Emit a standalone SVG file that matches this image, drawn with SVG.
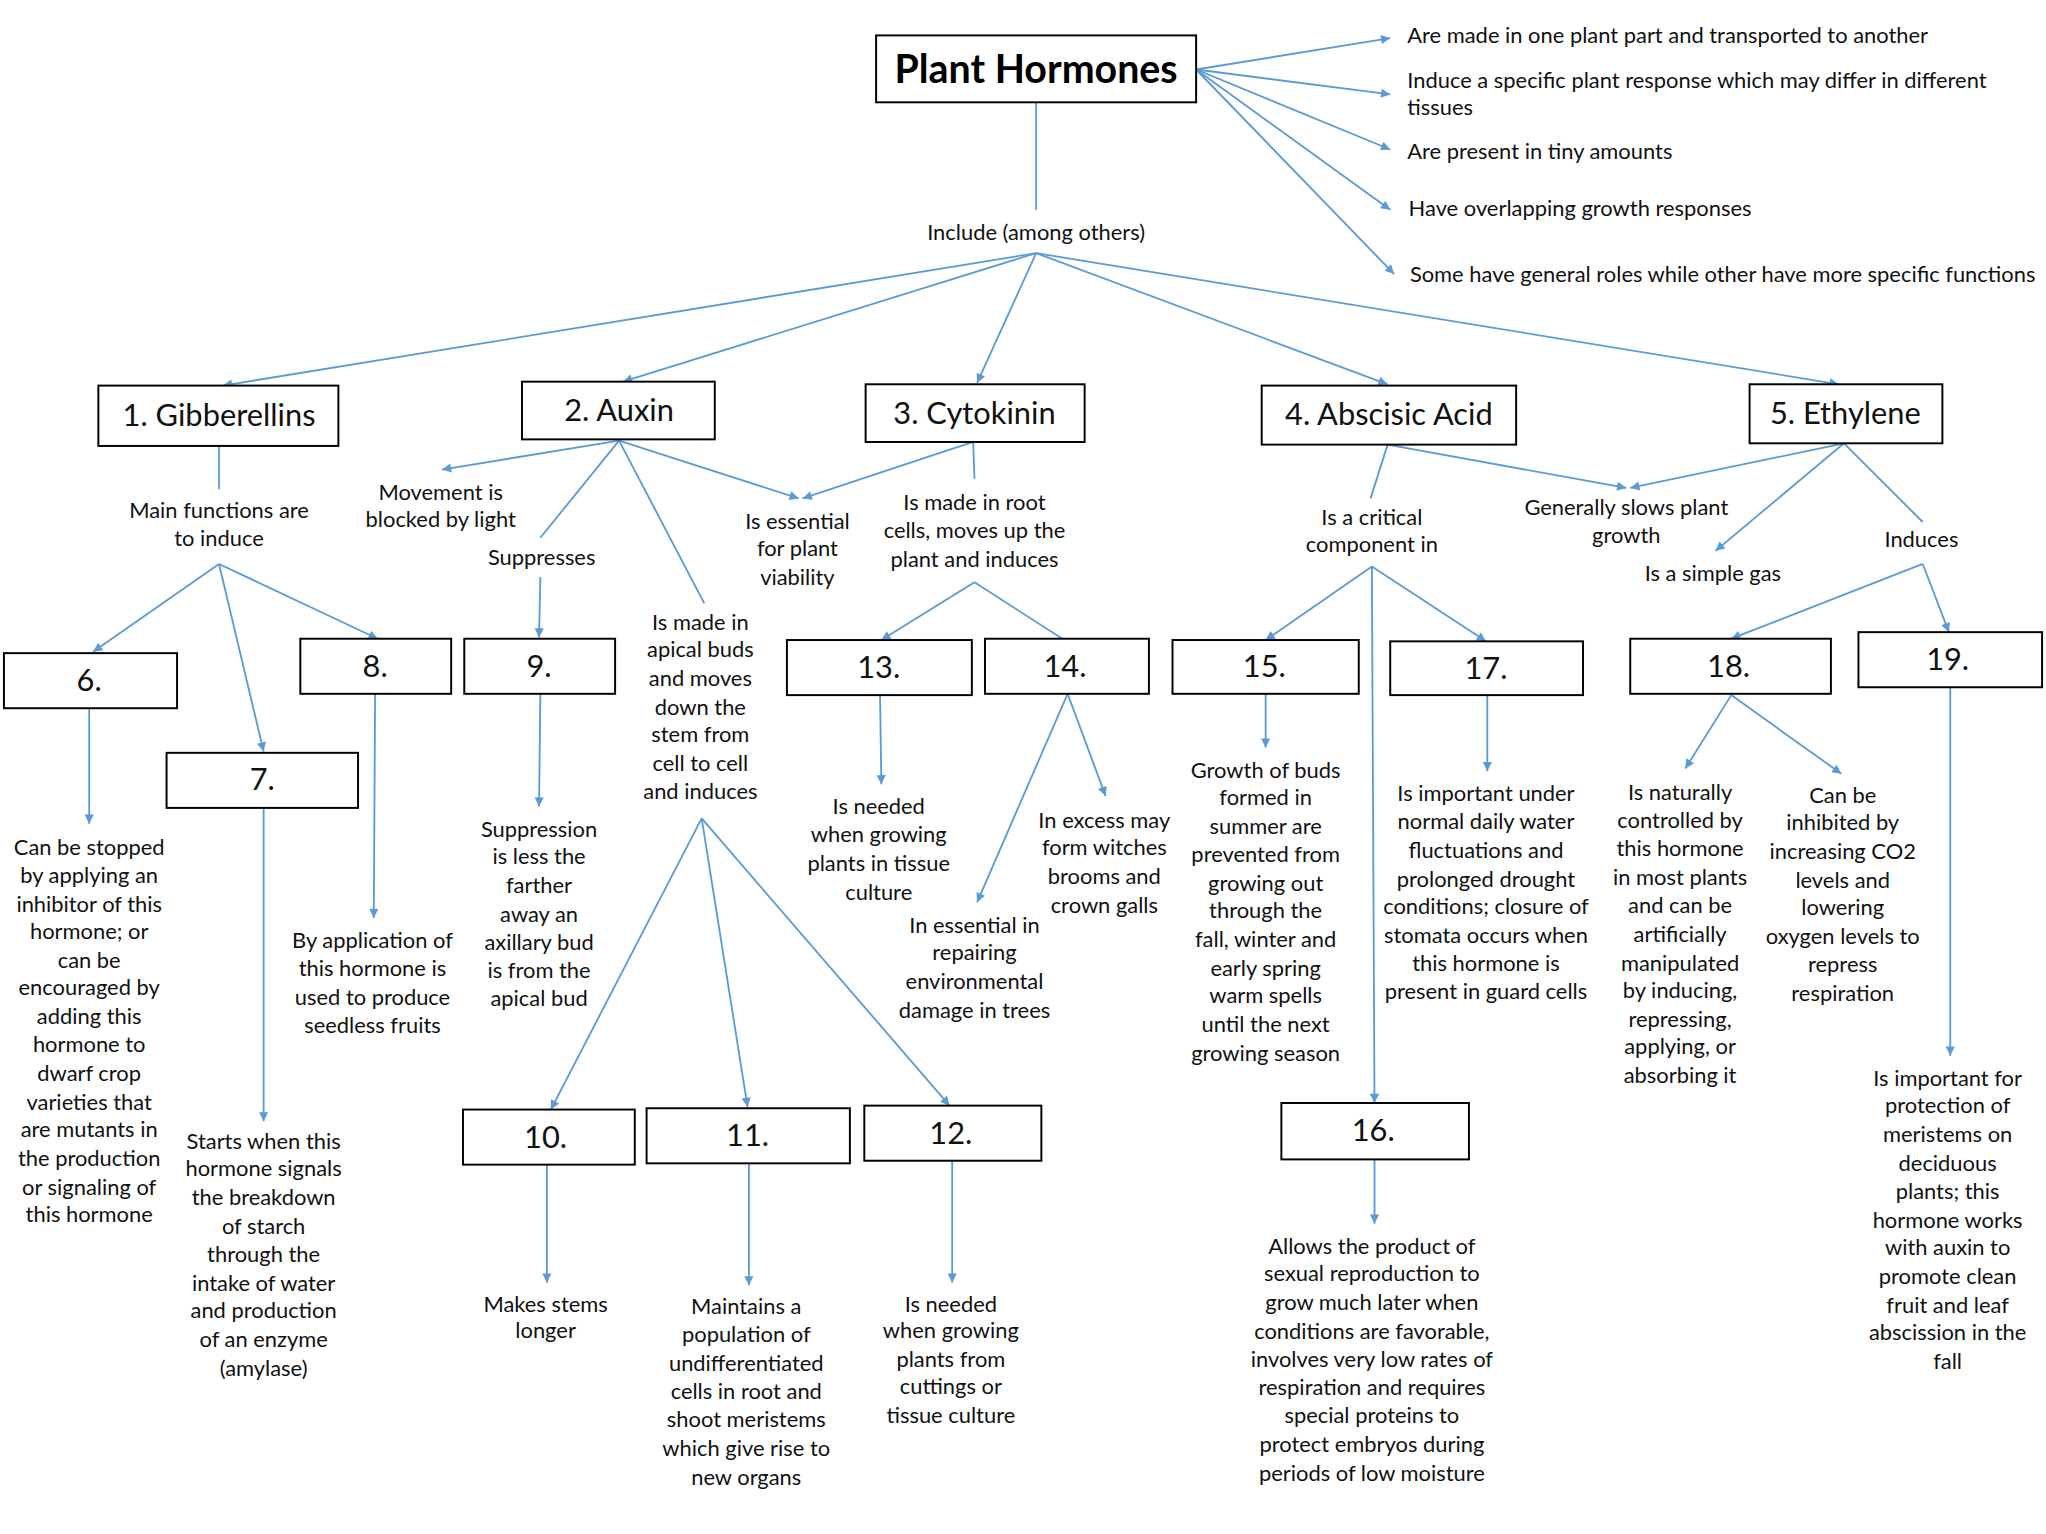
<svg xmlns="http://www.w3.org/2000/svg" width="2046" height="1534" viewBox="0 0 2046 1534">
<style>
.t{font-family:Lato,"Liberation Sans",sans-serif;font-size:16.7px;fill:#111;text-anchor:middle}
.l{font-family:Lato,"Liberation Sans",sans-serif;font-size:16.7px;fill:#111;text-anchor:start}
.bl{font-family:Lato,"Liberation Sans",sans-serif;font-size:23.5px;fill:#111;text-anchor:middle}
.ti{font-family:Lato,"Liberation Sans",sans-serif;font-size:30px;font-weight:bold;fill:#000;text-anchor:middle}
.b{fill:#fff;stroke:#000;stroke-width:1.5}
.c{stroke:#5B9BD5;stroke-width:1.4;fill:none}
.a{stroke:#5B9BD5;stroke-width:1.4;fill:none;marker-end:url(#ah)}
</style>
<defs>
<marker id="ah" viewBox="0 0 10 10" refX="10" refY="5" markerWidth="9" markerHeight="7" markerUnits="userSpaceOnUse" orient="auto"><path d="M0,0 L10,5 L0,10 z" fill="#5B9BD5"/></marker>
</defs>
<rect width="2046" height="1534" fill="#fff"/>
<g transform="scale(1.31154)">
<g id="connectors">
<line class="a" x1="912" y1="53" x2="1060" y2="29"/>
<line class="a" x1="912" y1="53" x2="1060" y2="72"/>
<line class="a" x1="912" y1="53" x2="1060" y2="114"/>
<line class="a" x1="912" y1="53" x2="1060" y2="160"/>
<line class="a" x1="912" y1="53" x2="1063" y2="209"/>
<line class="c" x1="790" y1="78" x2="790" y2="160"/>
<line class="a" x1="790" y1="193" x2="170" y2="294"/>
<line class="a" x1="790" y1="193" x2="475" y2="291"/>
<line class="a" x1="790" y1="193" x2="745" y2="292"/>
<line class="a" x1="790" y1="193" x2="1058" y2="293"/>
<line class="a" x1="790" y1="193" x2="1402" y2="293"/>
<line class="c" x1="167" y1="340" x2="167" y2="373"/>
<line class="a" x1="167" y1="430" x2="71" y2="497"/>
<line class="a" x1="167" y1="430" x2="201" y2="573"/>
<line class="a" x1="167" y1="430" x2="288" y2="487"/>
<line class="a" x1="68" y1="540" x2="68" y2="628"/>
<line class="a" x1="201" y1="616" x2="201" y2="855"/>
<line class="a" x1="286" y1="529" x2="285" y2="700"/>
<line class="a" x1="472" y1="336" x2="337" y2="358"/>
<line class="c" x1="472" y1="336" x2="412" y2="410"/>
<line class="a" x1="412" y1="440" x2="411" y2="486"/>
<line class="a" x1="472" y1="336" x2="609" y2="380"/>
<line class="a" x1="742" y1="337" x2="612" y2="380"/>
<line class="c" x1="472" y1="336" x2="537" y2="460"/>
<line class="a" x1="412" y1="529" x2="411" y2="615"/>
<line class="a" x1="535" y1="624" x2="420" y2="846"/>
<line class="a" x1="535" y1="624" x2="570" y2="844"/>
<line class="a" x1="535" y1="624" x2="724" y2="843"/>
<line class="a" x1="417" y1="888" x2="417" y2="978"/>
<line class="a" x1="571" y1="887" x2="571" y2="980"/>
<line class="a" x1="726" y1="885" x2="726" y2="978"/>
<line class="c" x1="742" y1="337" x2="743" y2="365"/>
<line class="a" x1="743" y1="444" x2="672" y2="488"/>
<line class="c" x1="743" y1="444" x2="810" y2="487"/>
<line class="a" x1="671" y1="530" x2="672" y2="598"/>
<line class="a" x1="814" y1="529" x2="745" y2="688"/>
<line class="a" x1="814" y1="529" x2="843" y2="607"/>
<line class="c" x1="1058" y1="339" x2="1045" y2="380"/>
<line class="a" x1="1058" y1="339" x2="1240" y2="372"/>
<line class="a" x1="1406" y1="338" x2="1243" y2="372"/>
<line class="a" x1="1046" y1="432" x2="965" y2="488"/>
<line class="a" x1="1046" y1="432" x2="1048" y2="841"/>
<line class="a" x1="1046" y1="432" x2="1133" y2="489"/>
<line class="a" x1="965" y1="529" x2="965" y2="570"/>
<line class="a" x1="1048" y1="884" x2="1048" y2="933"/>
<line class="a" x1="1134" y1="530" x2="1134" y2="588"/>
<line class="a" x1="1406" y1="338" x2="1308" y2="420"/>
<line class="c" x1="1406" y1="338" x2="1466" y2="398"/>
<line class="a" x1="1466" y1="430" x2="1320" y2="487"/>
<line class="a" x1="1466" y1="430" x2="1486" y2="482"/>
<line class="a" x1="1320" y1="530" x2="1285" y2="586"/>
<line class="a" x1="1320" y1="530" x2="1404" y2="590"/>
<line class="a" x1="1487" y1="524" x2="1487" y2="805"/>
</g>
<g id="plant-hormones"><rect class="b" x="668" y="27" width="244" height="51"/><text class="ti" x="790" y="63">Plant Hormones</text></g>
<g id="props">
<text class="l" x="1073" y="33">Are made in one plant part and transported to another</text>
<text class="l" x="1073" y="67">Induce a specific plant response which may differ in different<tspan x="1073" y="88">tissues</tspan></text>
<text class="l" x="1073" y="121">Are present in tiny amounts</text>
<text class="l" x="1074" y="165">Have overlapping growth responses</text>
<text class="l" x="1075" y="215">Some have general roles while other have more specific functions</text>
</g>
<g id="include"><text class="t" x="790" y="183">Include (among others)</text></g>
<g id="n1"><rect class="b" x="75" y="294" width="183" height="46"/><text class="bl" x="167" y="325">1. Gibberellins</text></g>
<g id="n2"><rect class="b" x="398" y="291" width="147" height="44"/><text class="bl" x="472" y="321">2. Auxin</text></g>
<g id="n3"><rect class="b" x="660" y="293" width="167" height="44"/><text class="bl" x="743" y="323">3. Cytokinin</text></g>
<g id="n4"><rect class="b" x="962" y="294" width="194" height="45"/><text class="bl" x="1059" y="324">4. Abscisic Acid</text></g>
<g id="n5"><rect class="b" x="1334" y="293" width="147" height="45"/><text class="bl" x="1407" y="323">5. Ethylene</text></g>
<g id="l-gib"><text class="t" x="167" y="395">Main functions are<tspan x="167" y="416">to induce</tspan></text></g>
<g id="n6"><rect class="b" x="3" y="498" width="132" height="42"/><text class="bl" x="68" y="527">6.</text></g>
<g id="n7"><rect class="b" x="127" y="574" width="146" height="42"/><text class="bl" x="200" y="602">7.</text></g>
<g id="n8"><rect class="b" x="229" y="487" width="115" height="42"/><text class="bl" x="286" y="516">8.</text></g>
<g id="t6"><text class="t" x="68" y="652">Can be stopped<tspan x="68" y="673">by applying an</tspan><tspan x="68" y="695">inhibitor of this</tspan><tspan x="68" y="716">hormone;  or</tspan><tspan x="68" y="738">can be</tspan><tspan x="68" y="759">encouraged by</tspan><tspan x="68" y="781">adding this</tspan><tspan x="68" y="802">hormone to</tspan><tspan x="68" y="824">dwarf crop</tspan><tspan x="68" y="846">varieties that</tspan><tspan x="68" y="867">are mutants in</tspan><tspan x="68" y="889">the production</tspan><tspan x="68" y="911">or signaling of</tspan><tspan x="68" y="932">this hormone</tspan></text></g>
<g id="t7"><text class="t" x="201" y="876">Starts when this<tspan x="201" y="897">hormone signals</tspan><tspan x="201" y="919">the breakdown</tspan><tspan x="201" y="941">of starch</tspan><tspan x="201" y="962">through the</tspan><tspan x="201" y="984">intake of water</tspan><tspan x="201" y="1005">and production</tspan><tspan x="201" y="1027">of an enzyme</tspan><tspan x="201" y="1049">(amylase)</tspan></text></g>
<g id="t8"><text class="t" x="284" y="723">By application of<tspan x="284" y="744">this hormone is</tspan><tspan x="284" y="766">used to produce</tspan><tspan x="284" y="788">seedless fruits</tspan></text></g>
<g id="l-mov"><text class="t" x="336" y="381">Movement is<tspan x="336" y="402">blocked by light</tspan></text></g>
<g id="l-sup"><text class="t" x="413" y="431">Suppresses</text></g>
<g id="l-ess"><text class="t" x="608" y="403">Is essential<tspan x="608" y="424">for plant</tspan><tspan x="608" y="446">viability</tspan></text></g>
<g id="l-apical"><text class="t" x="534" y="480">Is made in<tspan x="534" y="501">apical buds</tspan><tspan x="534" y="523">and moves</tspan><tspan x="534" y="545">down the</tspan><tspan x="534" y="566">stem from</tspan><tspan x="534" y="588">cell to cell</tspan><tspan x="534" y="609">and induces</tspan></text></g>
<g id="n9"><rect class="b" x="354" y="487" width="115" height="42"/><text class="bl" x="411" y="516">9.</text></g>
<g id="t9"><text class="t" x="411" y="638">Suppression<tspan x="411" y="659">is less the</tspan><tspan x="411" y="681">farther</tspan><tspan x="411" y="703">away an</tspan><tspan x="411" y="724">axillary bud</tspan><tspan x="411" y="746">is from the</tspan><tspan x="411" y="767">apical bud</tspan></text></g>
<g id="n10"><rect class="b" x="353" y="846" width="131" height="42"/><text class="bl" x="416" y="875">10.</text></g>
<g id="t10"><text class="t" x="416" y="1000">Makes stems<tspan x="416" y="1020">longer</tspan></text></g>
<g id="n11"><rect class="b" x="493" y="845" width="155" height="42"/><text class="bl" x="570" y="874">11.</text></g>
<g id="t11"><text class="t" x="569" y="1002">Maintains a<tspan x="569" y="1023">population of</tspan><tspan x="569" y="1045">undifferentiated</tspan><tspan x="569" y="1067">cells in root and</tspan><tspan x="569" y="1088">shoot meristems</tspan><tspan x="569" y="1110">which give rise to</tspan><tspan x="569" y="1132">new organs</tspan></text></g>
<g id="n12"><rect class="b" x="659" y="843" width="135" height="42"/><text class="bl" x="725" y="872">12.</text></g>
<g id="t12"><text class="t" x="725" y="1000">Is needed<tspan x="725" y="1020">when growing</tspan><tspan x="725" y="1042">plants from</tspan><tspan x="725" y="1063">cuttings or</tspan><tspan x="725" y="1085">tissue culture</tspan></text></g>
<g id="l-root"><text class="t" x="743" y="389">Is made in root<tspan x="743" y="410">cells, moves up the</tspan><tspan x="743" y="432">plant and induces</tspan></text></g>
<g id="n13"><rect class="b" x="600" y="488" width="141" height="42"/><text class="bl" x="670" y="517">13.</text></g>
<g id="t13"><text class="t" x="670" y="621">Is needed<tspan x="670" y="642">when growing</tspan><tspan x="670" y="664">plants in tissue</tspan><tspan x="670" y="686">culture</tspan></text></g>
<g id="n14"><rect class="b" x="751" y="487" width="125" height="42"/><text class="bl" x="812" y="516">14.</text></g>
<g id="t14a"><text class="t" x="743" y="711">In essential in<tspan x="743" y="732">repairing</tspan><tspan x="743" y="754">environmental</tspan><tspan x="743" y="776">damage in trees</tspan></text></g>
<g id="t14b"><text class="t" x="842" y="631">In excess may<tspan x="842" y="652">form witches</tspan><tspan x="842" y="674">brooms and</tspan><tspan x="842" y="696">crown galls</tspan></text></g>
<g id="l-crit"><text class="t" x="1046" y="400">Is  a critical<tspan x="1046" y="421">component in</tspan></text></g>
<g id="l-slow"><text class="t" x="1240" y="393">Generally slows plant<tspan x="1240" y="414">growth</tspan></text></g>
<g id="n15"><rect class="b" x="894" y="488" width="142" height="41"/><text class="bl" x="964" y="516">15.</text></g>
<g id="t15"><text class="t" x="965" y="593">Growth of buds<tspan x="965" y="614">formed in</tspan><tspan x="965" y="636">summer are</tspan><tspan x="965" y="657">prevented from</tspan><tspan x="965" y="679">growing out</tspan><tspan x="965" y="700">through the</tspan><tspan x="965" y="722">fall, winter and</tspan><tspan x="965" y="744">early spring</tspan><tspan x="965" y="765">warm spells</tspan><tspan x="965" y="787">until the next</tspan><tspan x="965" y="809">growing season</tspan></text></g>
<g id="n16"><rect class="b" x="977" y="841" width="143" height="43"/><text class="bl" x="1047" y="870">16.</text></g>
<g id="t16"><text class="t" x="1046" y="956">Allows the product of<tspan x="1046" y="977">sexual reproduction to</tspan><tspan x="1046" y="999">grow much later when</tspan><tspan x="1046" y="1021">conditions are favorable,</tspan><tspan x="1046" y="1042">involves very low rates of</tspan><tspan x="1046" y="1064">respiration and requires</tspan><tspan x="1046" y="1085">special proteins to</tspan><tspan x="1046" y="1107">protect embryos during</tspan><tspan x="1046" y="1129">periods of low moisture</tspan></text></g>
<g id="n17"><rect class="b" x="1060" y="489" width="147" height="41"/><text class="bl" x="1133" y="518">17.</text></g>
<g id="t17"><text class="t" x="1133" y="611">Is important under<tspan x="1133" y="632">normal daily water</tspan><tspan x="1133" y="654">fluctuations and</tspan><tspan x="1133" y="676">prolonged drought</tspan><tspan x="1133" y="697">conditions; closure of</tspan><tspan x="1133" y="719">stomata occurs when</tspan><tspan x="1133" y="740">this hormone is</tspan><tspan x="1133" y="762">present in guard cells</tspan></text></g>
<g id="l-gas"><text class="t" x="1306" y="443">Is a simple gas</text></g>
<g id="l-ind"><text class="t" x="1465" y="417">Induces</text></g>
<g id="n18"><rect class="b" x="1243" y="487" width="153" height="42"/><text class="bl" x="1318" y="516">18.</text></g>
<g id="t18a"><text class="t" x="1281" y="610">Is naturally<tspan x="1281" y="631">controlled by</tspan><tspan x="1281" y="653">this hormone</tspan><tspan x="1281" y="675">in most plants</tspan><tspan x="1281" y="696">and can be</tspan><tspan x="1281" y="718">artificially</tspan><tspan x="1281" y="740">manipulated</tspan><tspan x="1281" y="761">by inducing,</tspan><tspan x="1281" y="783">repressing,</tspan><tspan x="1281" y="804">applying, or</tspan><tspan x="1281" y="826">absorbing it</tspan></text></g>
<g id="t18b"><text class="t" x="1405" y="612">Can be<tspan x="1405" y="633">inhibited by</tspan><tspan x="1405" y="655">increasing CO2</tspan><tspan x="1405" y="677">levels and</tspan><tspan x="1405" y="698">lowering</tspan><tspan x="1405" y="720">oxygen levels to</tspan><tspan x="1405" y="741">repress</tspan><tspan x="1405" y="763">respiration</tspan></text></g>
<g id="n19"><rect class="b" x="1417" y="482" width="140" height="42"/><text class="bl" x="1485" y="511">19.</text></g>
<g id="t19"><text class="t" x="1485" y="828">Is important for<tspan x="1485" y="849">protection of</tspan><tspan x="1485" y="871">meristems on</tspan><tspan x="1485" y="893">deciduous</tspan><tspan x="1485" y="914">plants; this</tspan><tspan x="1485" y="936">hormone works</tspan><tspan x="1485" y="957">with auxin to</tspan><tspan x="1485" y="979">promote clean</tspan><tspan x="1485" y="1001">fruit and leaf</tspan><tspan x="1485" y="1022">abscission in the</tspan><tspan x="1485" y="1044">fall</tspan></text></g>
</g>
</svg>
